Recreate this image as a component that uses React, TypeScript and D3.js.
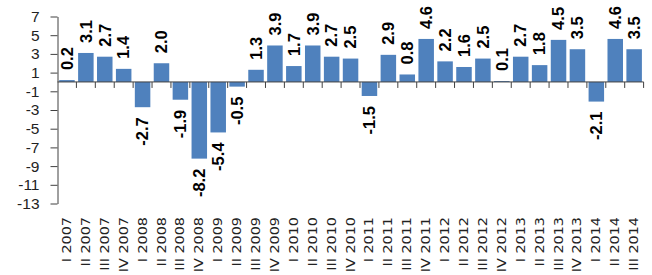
import { useEffect, useRef } from "react";
import * as d3 from "d3";

const quarters = [
  "I 2007", "II 2007", "III 2007", "IV 2007",
  "I 2008", "II 2008", "III 2008", "IV 2008",
  "I 2009", "II 2009", "III 2009", "IV 2009",
  "I 2010", "II 2010", "III 2010", "IV 2010",
  "I 2011", "II 2011", "III 2011", "IV 2011",
  "I 2012", "II 2012", "III 2012", "IV 2012",
  "I 2013", "II 2013", "III 2013", "IV 2013",
  "I 2014", "II 2014", "III 2014",
];
const growth = [
  0.2, 3.1, 2.7, 1.4,
  -2.7, 2.0, -1.9, -8.2,
  -5.4, -0.5, 1.3, 3.9,
  1.7, 3.9, 2.7, 2.5,
  -1.5, 2.9, 0.8, 4.6,
  2.2, 1.6, 2.5, 0.1,
  2.7, 1.8, 4.5, 3.5,
  -2.1, 4.6, 3.5,
];
const yTicks = [7, 5, 3, 1, -1, -3, -5, -7, -9, -11, -13];

export default function App() {
  const ref = useRef<SVGSVGElement>(null);
  useEffect(() => {
    if (!ref.current) return;
    const svg = d3.select(ref.current);
    svg.selectAll("*").remove();
    const w = 652;
    const h = 275;
    svg.attr("viewBox", `0 0 ${w} ${h}`);

    const data = quarters.map((q, i) => ({ q, v: growth[i] }));
    const x = d3.scaleBand<string>()
      .domain(quarters)
      .range([57.5, 643.6])
      .paddingInner(0.18)
      .paddingOuter(0.09);
    const y = d3.scaleLinear().domain([-13, 7]).range([203.5, 16.5]);
    const axisColor = "#404040";

    svg.append("g")
      .selectAll("rect")
      .data(data)
      .join("rect")
      .attr("x", (d) => x(d.q)!)
      .attr("width", x.bandwidth())
      .attr("y", (d) => y(Math.max(0, d.v)))
      .attr("height", (d) => Math.abs(y(d.v) - y(0)))
      .attr("fill", "#4f81bd");

    // y axis
    svg.append("g")
      .attr("transform", `translate(${x.range()[0]},0)`)
      .call(d3.axisLeft(y).tickValues(yTicks).tickSize(7).tickSizeOuter(0).tickPadding(11).tickFormat((d) => String(d)))
      .call((g) => g.select(".domain").attr("stroke", axisColor))
      .call((g) => g.selectAll(".tick line").attr("stroke", axisColor))
      .call((g) => g.selectAll("text")
        .attr("font-family", "'Liberation Sans', Arial, sans-serif")
        .attr("font-size", 15.5)
        .attr("fill", "#222"));

    // category axis at zero
    const x0 = x.range()[0];
    const bounds = d3.range(quarters.length + 1).map((i) => x0 + i * x.step());
    const xa = svg.append("g");
    xa.append("line")
      .attr("x1", x0).attr("x2", x.range()[1])
      .attr("y1", y(0)).attr("y2", y(0))
      .attr("stroke", axisColor);
    xa.selectAll("line.tk")
      .data(bounds.slice(1))
      .join("line")
      .attr("class", "tk")
      .attr("x1", (d) => d).attr("x2", (d) => d)
      .attr("y1", y(0)).attr("y2", y(0) + 6)
      .attr("stroke", axisColor);

    svg.append("g")
      .selectAll("text")
      .data(quarters)
      .join("text")
      .attr("transform", (d) => `translate(${x(d)! + x.bandwidth() / 2},217) rotate(-90) scale(1.25,1)`)
      .attr("text-anchor", "end")
      .attr("dy", "0.35em")
      .attr("font-family", "'DejaVu Sans', sans-serif")
      .attr("font-size", 11.5)
      .attr("fill", "#222")
      .text((d) => d);

    // value labels
    svg.append("g")
      .selectAll("text")
      .data(data)
      .join("text")
      .attr("transform", (d) => {
        const ty = d.v >= 0 ? y(d.v) - 10 : y(d.v) + 10;
        return `translate(${x(d.q)! + x.bandwidth() / 2},${ty}) rotate(-90)`;
      })
      .attr("text-anchor", (d) => (d.v >= 0 ? "start" : "end"))
      .attr("dy", "0.35em")
      .attr("font-family", "'Liberation Sans', Arial, sans-serif")
      .attr("font-weight", "bold")
      .attr("font-size", 16.5)
      .attr("fill", "#000")
      .text((d) => d.v.toFixed(1));
  }, []);
  return <svg ref={ref} width={652} height={275} style={{ position: "absolute", left: 0, top: 0, display: "block" }} />;
}
